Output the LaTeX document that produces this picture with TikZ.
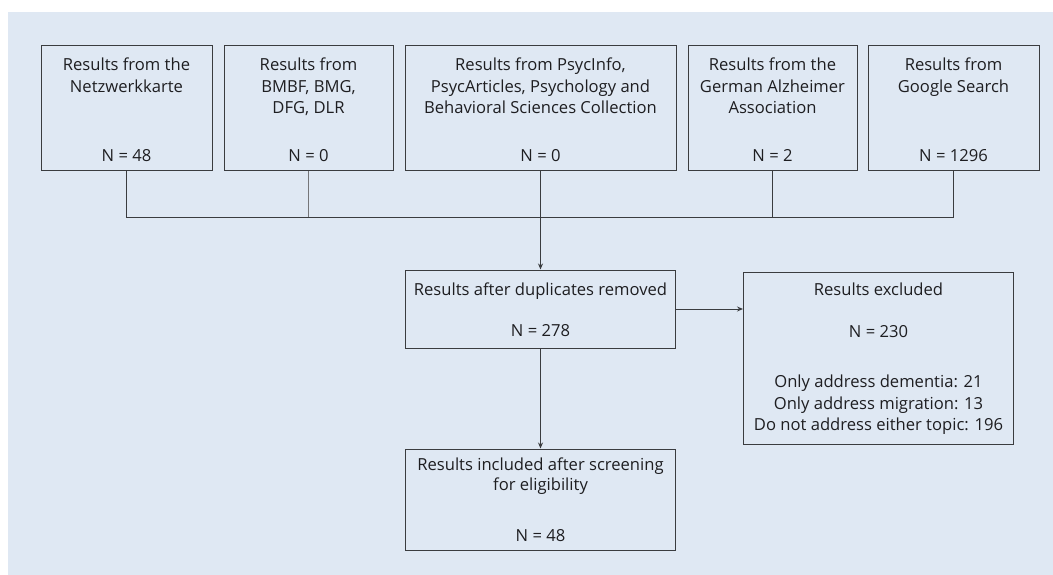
\documentclass[tikz,border=0pt]{standalone}
\usepackage{fontspec}
\setmainfont{Open Sans}
\usetikzlibrary{arrows.meta}
\usetikzlibrary{positioning}
\definecolor{panel}{RGB}{223,232,243}
\definecolor{frame}{RGB}{58,60,63}
\definecolor{ink}{RGB}{30,30,33}
\tikzset{
  >={Stealth[length=6pt, width=5pt]},
  node distance = 11pt,
  box/.style = {draw = frame, line width = 1pt, inner sep = 0pt},
  srcbox/.style = {box, minimum height = 125pt},
  headtext/.style = {anchor = north, align = center, inner sep = 0pt, yshift = -12.5pt},
  counttext/.style = {anchor = south, align = center, inner sep = 0pt, yshift = 9.5pt},
  link/.style = {draw = frame, line width = 1pt},
  thinlink/.style = {draw = frame!70, line width = 0.5pt},
}

\begin{document}
\begin{tikzpicture}[x = 1pt, y = -1pt, text = ink, font = \fontsize{16.6}{21.5}\selectfont]
    \useasboundingbox (0,0) rectangle (1053,575);
    \fill [panel] (8,12) rectangle (1053,575);

    % sources
    \node [srcbox, minimum width = 171pt,
      label = {[headtext]north:Results from the\\Netzwerkkarte},
      label = {[counttext]south:N = 48}] (netz) at (126.5,108.5) {};
    \node [srcbox, minimum width = 169pt, right = of netz,
      label = {[headtext]north:Results from\\BMBF, BMG,\\DFG, DLR},
      label = {[counttext]south:N = 0}] (bmbf) {};
    \node [srcbox, minimum width = 271pt, right = of bmbf,
      label = {[headtext]north:Results from PsycInfo,\\PsycArticles, Psychology and\\Behavioral Sciences Collection},
      label = {[counttext]south:N = 0}] (psyc) {};
    \node [srcbox, minimum width = 169pt, right = of psyc,
      label = {[headtext]north:Results from the\\German Alzheimer\\Association},
      label = {[counttext]south:N = 2}] (alz) {};
    \node [srcbox, minimum width = 171pt, right = 10pt of alz,
      label = {[headtext]north:Results from\\Google Search},
      label = {[counttext]south:N = 1296}] (google) {};

    % screening
    \node [box, minimum width = 270pt, minimum height = 78pt, below = 98pt of psyc,
      label = {[headtext, yshift = -0.5pt]north:Results after duplicates removed},
      label = {[counttext, yshift = 2pt]south:N = 278}] (dup) {};
    \node [box, minimum width = 270pt, minimum height = 172pt,
      right = 67pt of dup.north east, anchor = north west, yshift = -2pt,
      label = {[headtext, yshift = 1.5pt]north:Results excluded\\[20.5pt]N = 230},
      label = {[counttext]south:Only address dementia: 21\\Only address migration: 13\\Do not address either topic: 196}] (excl) {};
    \node [box, minimum width = 270pt, minimum height = 101pt, below = 100pt of dup,
      label = {[headtext, yshift = 3.5pt, font = \fontsize{16.6}{20}\selectfont]north:Results included after screening\\for eligibility},
      label = {[counttext, yshift = -1pt]south:N = 48}] (incl) {};

    % connectors
    \draw [link] (netz.south) -- ++(0,46) -| (google.south);
    \draw [thinlink] (bmbf.south) -- ++(0,46);
    \draw [link] (alz.south) -- ++(0,46);
    \draw [link, ->] (psyc.south) -- (dup.north);
    \draw [link, ->] (dup.east) -- (dup.east -| excl.west);
    \draw [link, ->] (dup.south) -- (incl.north);
\end{tikzpicture}
\end{document}
